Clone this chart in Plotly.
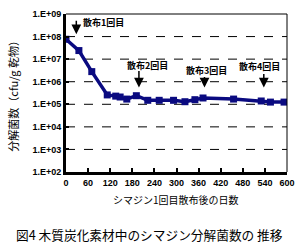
import math
import plotly.graph_objects as go

days = [0, 35, 70, 112, 135, 147, 165, 191, 222, 253, 292, 323, 350, 372, 455, 530, 555, 592]
counts = [7.6e7, 2.4e7, 2.8e6, 2.6e5, 2.3e5, 2.1e5, 1.7e5, 2.4e5, 1.5e5, 1.5e5, 1.5e5,
          1.3e5, 1.6e5, 1.9e5, 1.7e5, 1.4e5, 1.25e5, 1.25e5]

x_ticks = [0, 60, 120, 180, 240, 300, 360, 420, 480, 540, 600]
y_tickvals = [1e2, 1e3, 1e4, 1e5, 1e6, 1e7, 1e8, 1e9]
y_ticktext = ["1.E+02", "1.E+03", "1.E+04", "1.E+05", "1.E+06", "1.E+07", "1.E+08", "1.E+09"]
grid_vals = [1e3, 1e4, 1e5, 1e6, 1e7, 1e8]

spray_labels = ["散布1回目", "散布2回目", "散布3回目", "散布4回目"]
spray_days = [28, 198, 376, 537]
spray_tip = [1.26e8, 5.5e5, 5.5e5, 5.5e5]

CJK = "Noto Sans CJK JP"
TICKF = "Liberation Sans"
NAVY = "#0a0a80"

fig = go.Figure()
fig.add_trace(go.Scatter(
    x=days, y=counts, mode="lines+markers",
    line=dict(color=NAVY, width=3.5),
    marker=dict(symbol="square", size=7, color=NAVY),
    showlegend=False, hoverinfo="skip",
))

shapes = []
for g in grid_vals:
    shapes.append(dict(type="line", xref="paper", x0=0, x1=1, yref="y", y0=g, y1=g,
                       line=dict(color="black", width=1, dash="dash"), layer="below"))
shapes.append(dict(type="line", xref="paper", yref="paper", x0=0, x1=1, y0=1, y1=1,
                   line=dict(color="black", width=1)))
shapes.append(dict(type="line", xref="paper", yref="paper", x0=1, x1=1, y0=0, y1=1,
                   line=dict(color="black", width=1)))

annotations = []
arrow_len = [-15, -18, -12, -15]
text_pos = [(81, 18, "left"), (150, 62, "center"), (211, 67, "center"), (266, 63, "center")]
for lab, d, tip, ay, tp in zip(spray_labels, spray_days, spray_tip, arrow_len, text_pos):
    annotations.append(dict(x=d, y=math.log10(tip), xref="x", yref="y",
                            text="", showarrow=True, arrowhead=2, arrowsize=1.3,
                            arrowwidth=1.5, arrowcolor="black", ax=0, ay=ay))
    annotations.append(dict(x=(tp[0] - 66) / 228, y=(172 - tp[1]) / 163, xref="paper", yref="paper",
                            text=lab, showarrow=False, xanchor=tp[2], yanchor="middle",
                            font=dict(family=CJK, size=9, color="black", weight="bold")))

annotations.append(dict(x=-55 / 228, y=0.5, xref="paper", yref="paper",
                        text="分解菌数（cfu/g 乾物）", textangle=-90, showarrow=False,
                        xanchor="center", yanchor="middle",
                        font=dict(family=CJK, size=11, color="black")))
annotations.append(dict(x=(179 - 66) / 228, y=(172 - 200) / 163, xref="paper", yref="paper",
                        text="シマジン1回目散布後の日数", showarrow=False,
                        xanchor="center", yanchor="middle",
                        font=dict(family=CJK, size=10, color="black")))
annotations.append(dict(x=(152 - 66) / 228, y=(172 - 236) / 163, xref="paper", yref="paper",
                        text="図4 木質炭化素材中のシマジン分解菌数の 推移", showarrow=False,
                        xanchor="center", yanchor="middle",
                        font=dict(family=CJK, size=12.7, color="black")))

fig.update_layout(
    width=304, height=243,
    margin=dict(l=66, r=10, t=9, b=71),
    paper_bgcolor="white", plot_bgcolor="white",
    shapes=shapes, annotations=annotations,
    xaxis=dict(range=[0, 600], tickvals=x_ticks, ticks="inside", ticklen=4, tickwidth=2,
               tickcolor="black", showline=True, linewidth=3, linecolor="black",
               showgrid=False, zeroline=False,
               tickfont=dict(family=TICKF, size=9, color="black", weight="bold")),
    yaxis=dict(type="log", range=[2, 9], tickvals=y_tickvals, ticktext=y_ticktext,
               ticks="inside", ticklen=3, tickwidth=2, tickcolor="black",
               showline=True, linewidth=3, linecolor="black", showgrid=False,
               zeroline=False,
               tickfont=dict(family=TICKF, size=9, color="black", weight="bold")),
)

fig.write_html("out.html")
